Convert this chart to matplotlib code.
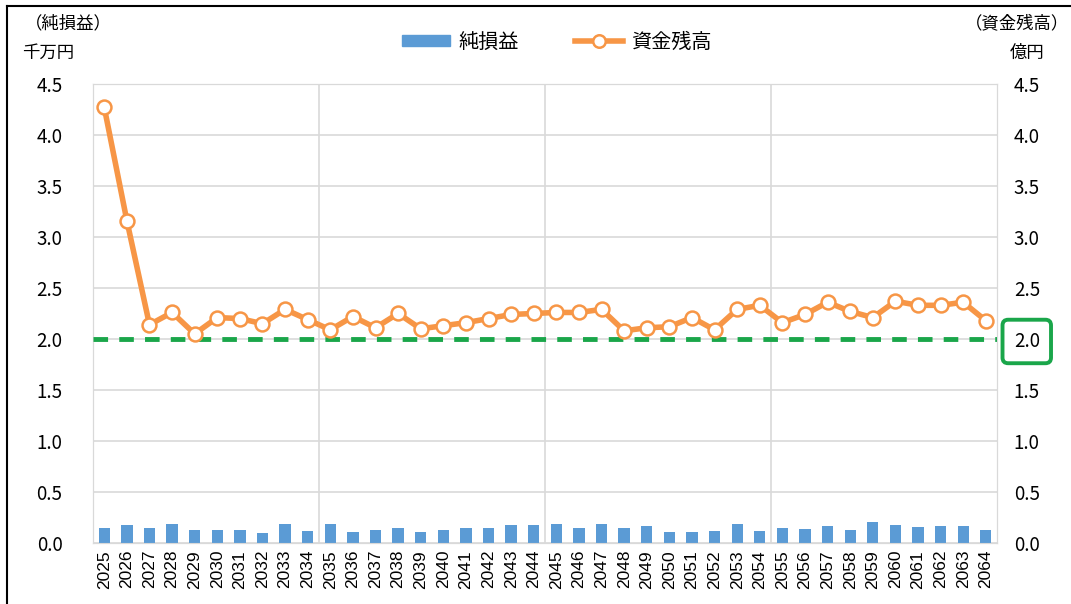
import matplotlib.pyplot as plt
import matplotlib.lines as mlines
import matplotlib.patches as mpatches
import numpy as np

plt.rcParams['font.family'] = ['Noto Sans CJK JP', 'DejaVu Sans']

years = [str(y) for y in range(2025, 2065)]
# 純損益 (千万円)
net_income = [0.15, 0.18, 0.145, 0.19, 0.125, 0.13, 0.125, 0.10, 0.19, 0.12,
              0.19, 0.11, 0.125, 0.15, 0.11, 0.13, 0.15, 0.145, 0.18, 0.18,
              0.19, 0.145, 0.19, 0.15, 0.17, 0.11, 0.11, 0.115, 0.19, 0.12,
              0.15, 0.135, 0.17, 0.125, 0.205, 0.18, 0.155, 0.17, 0.165, 0.13]
# 資金残高 (億円)
balance = [4.27, 3.16, 2.14, 2.26, 2.05, 2.21, 2.20, 2.15, 2.29, 2.19,
           2.09, 2.22, 2.11, 2.25, 2.10, 2.13, 2.16, 2.20, 2.24, 2.25,
           2.26, 2.26, 2.29, 2.08, 2.11, 2.12, 2.21, 2.09, 2.29, 2.33,
           2.16, 2.24, 2.36, 2.27, 2.21, 2.37, 2.33, 2.33, 2.36, 2.18]
ticks = [0.0, 0.5, 1.0, 1.5, 2.0, 2.5, 3.0, 3.5, 4.0, 4.5]
threshold = 2.0

blue = '#5B9BD5'
orange = '#F79646'
green = '#1AA64A'
grid_c = '#D9D9D9'

fig = plt.figure(figsize=(10.71, 6.04), dpi=100)
ax = fig.add_axes([0.0868, 0.101, 0.8442, 0.76])
ax2 = ax.twinx()

x = np.arange(len(years))
ax.bar(x, net_income, width=0.5, color=blue, zorder=3)
ax2.plot(x, balance, color=orange, lw=4, marker='o', ms=10,
         mfc='white', mec=orange, mew=1.8, zorder=5)
ax2.axhline(threshold, color=green, lw=3.5, ls=(0, (3, 2.3)), zorder=4)

for a in (ax, ax2):
    a.set_ylim(0, 4.5)
    a.set_yticks(ticks)
    a.set_yticklabels([f'{t:.1f}' for t in ticks], fontsize=13.5)
    a.tick_params(axis='y', length=0)
    for s in a.spines.values():
        s.set_color(grid_c)
ax.tick_params(axis='y', pad=22)
ax2.tick_params(axis='y', pad=12)
ax.set_xlim(-0.5, len(years) - 0.5)
ax.set_xticks(x)
ax.set_xticklabels(years, rotation=90, fontsize=12.5, family=['Liberation Sans'])
ax.tick_params(axis='x', length=0, pad=5)

ax.yaxis.grid(True, color=grid_c, lw=1.2, zorder=0)
ax.set_axisbelow(True)
for b in (9.5, 19.5, 29.5):
    ax.axvline(b, color=grid_c, lw=1.2, zorder=0)

# green box around 2.0 on the right axis
for lab in ax2.get_yticklabels():
    if lab.get_text() == '2.0':
        lab.set_bbox(dict(boxstyle='round,pad=0.6,rounding_size=0.3',
                          fc='white', ec=green, lw=2.8))

fig.text(0.023, 0.962, '（純損益）', fontsize=12.5, ha='left', va='center')
fig.text(0.021, 0.912, '千万円', fontsize=12.5, ha='left', va='center')
fig.text(0.998, 0.962, '（資金残高）', fontsize=12.5, ha='right', va='center')
fig.text(0.959, 0.912, '億円', fontsize=12.5, ha='center', va='center')

h1 = mpatches.Patch(color=blue, label='純損益')
h2 = mlines.Line2D([], [], color=orange, lw=4, marker='o', ms=9,
                   mfc='white', mec=orange, mew=1.8, label='資金残高')
fig.legend(handles=[h1, h2], loc='center', bbox_to_anchor=(0.52, 0.93),
           ncol=2, frameon=False, fontsize=14.5, handlelength=2.4,
           handleheight=0.5, columnspacing=2.8, handletextpad=0.4)

# black border on top and left like the clipped screenshot
fig.add_artist(mlines.Line2D([0.0065, 0.0065], [0, 0.99], color='black', lw=1.5,
                             transform=fig.transFigure))
fig.add_artist(mlines.Line2D([0.0065, 1], [0.99, 0.99], color='black', lw=1.5,
                             transform=fig.transFigure))

fig.savefig('out.png', dpi=100)
